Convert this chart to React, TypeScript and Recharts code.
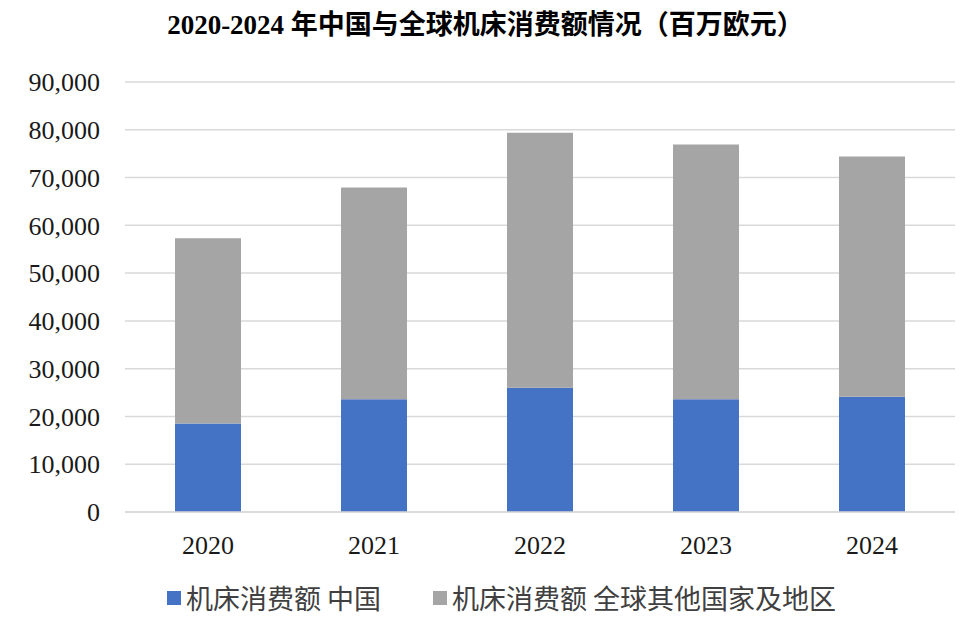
import { BarChart, Bar, XAxis, YAxis, CartesianGrid, Legend } from 'recharts'

const years = ['2020', '2021', '2022', '2023', '2024']
const chinaValues = [18500, 23600, 26000, 23600, 24100]
const restOfWorldValues = [38800, 44300, 53400, 53300, 50300]
const yTicks = [0, 10000, 20000, 30000, 40000, 50000, 60000, 70000, 80000, 90000]

const data = years.map((year, i) => ({
  year,
  china: chinaValues[i],
  rest: restOfWorldValues[i],
}))

const serif = "'Liberation Serif', 'Times New Roman', serif"
const cjk = "'Noto Sans CJK SC', sans-serif"

function LegendContent(props: any) {
  const payload = props.payload || []
  return (
    <div style={{ display: 'flex', alignItems: 'center', fontFamily: cjk, fontSize: 27, lineHeight: '36px', color: '#404040' }}>
      {payload.map((p: any, i: number) => (
        <div key={p.value} style={{ display: 'flex', alignItems: 'center', marginRight: i === 0 ? 52 : 0 }}>
          <span style={{ display: 'inline-block', width: 14, height: 14, background: p.color, marginRight: 5 }} />
          <span>{p.value}</span>
        </div>
      ))}
    </div>
  )
}

export default function App() {
  return (
    <div style={{ position: 'absolute', left: 0, top: 0, width: 978, height: 628, background: '#fff' }}>
      <div
        style={{
          position: 'absolute', top: 7, left: 0, width: 971, textAlign: 'center',
          fontFamily: `'Liberation Serif', ${cjk}`, fontWeight: 700, fontSize: 27, lineHeight: '36px', color: '#000',
        }}
      >
        2020-2024 年中国与全球机床消费额情况（百万欧元）
      </div>
      <BarChart width={978} height={628} data={data} margin={{ top: 82, right: 23, bottom: 86, left: 0 }}>
        <CartesianGrid vertical={false} stroke="#d9d9d9" strokeWidth={1.5} />
        <XAxis
          dataKey="year"
          height={30}
          axisLine={{ stroke: '#d9d9d9', strokeWidth: 1.5 }}
          tickLine={false}
          tickSize={0}
          tickMargin={24}
          tick={{ fill: '#1a1a1a', fontSize: 26, fontFamily: serif }}
        />
        <YAxis
          width={125}
          domain={[0, 90000]}
          ticks={yTicks}
          interval={0}
          axisLine={false}
          tickLine={false}
          tickSize={0}
          tickMargin={25}
          tickFormatter={(v: number) => v.toLocaleString('en-US')}
          tick={{ fill: '#1a1a1a', fontSize: 26, fontFamily: serif }}
        />
        <Legend
          verticalAlign="middle"
          align="center"
          wrapperStyle={{ top: 580, left: 167, width: 780 }}
          content={<LegendContent />}
        />
        <Bar dataKey="china" name="机床消费额 中国" stackId="a" fill="#4472C4" barSize={66} isAnimationActive={false} />
        <Bar dataKey="rest" name="机床消费额 全球其他国家及地区" stackId="a" fill="#A5A5A5" barSize={66} isAnimationActive={false} />
      </BarChart>
    </div>
  )
}
